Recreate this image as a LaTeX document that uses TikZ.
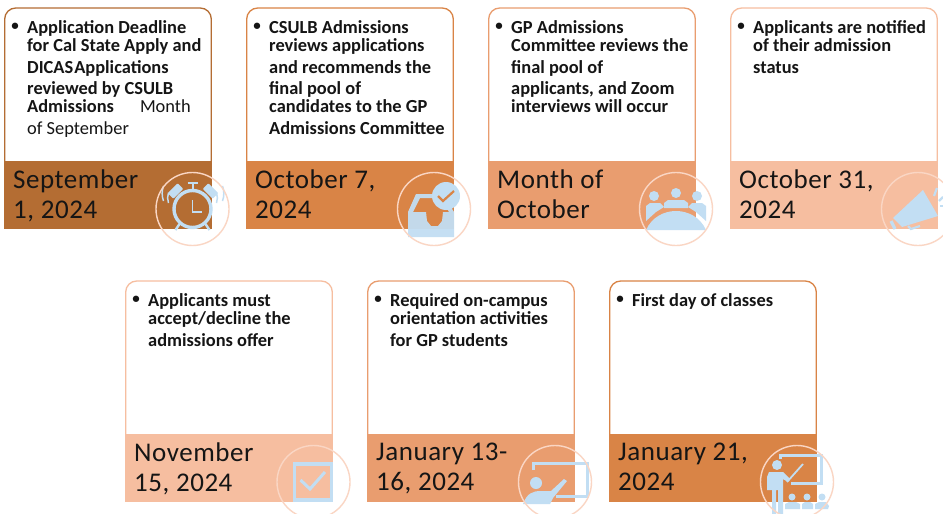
\documentclass[tikz,border=0pt]{standalone}
\usepackage{fontspec}
\setmainfont{Carlito}
\newfontfamily\datefont[LetterSpace=2]{Carlito}
\definecolor{cA}{HTML}{B46D33}
\definecolor{cB}{HTML}{D98446}
\definecolor{cC}{HTML}{E99D6F}
\definecolor{cD}{HTML}{F6BEA0}
\definecolor{ring}{HTML}{FAD6C4}
\definecolor{ice}{HTML}{C2DEF3}
\definecolor{ink}{HTML}{151515}
\tikzset{
  x=1pt,y=-1pt,
  body/.style={anchor=north west,inner sep=0pt,align=left,font=\fontsize{18.4}{18.2}\selectfont\bfseries,text=ink},
  bul/.style={anchor=center,inner sep=0pt,font=\fontsize{15}{18.5}\selectfont\bfseries,text=ink},
  datetext/.style={anchor=north west,inner sep=0pt,align=left,font=\datefont\fontsize{27}{29.5}\selectfont,text=ink},
  halo/.style={draw=ring,line width=1.4pt},
  iconline/.style={draw=ice,line width=3pt,fill=none},
}
% name, left, top, colour, date, text
\newcommand{\card}[6]{%
  \draw[draw=#4,line width=1.3pt,fill=white,rounded corners=11pt] (#2+0.7,#3+165) -- (#2+0.7,#3) -- (#2+207.3,#3) -- (#2+207.3,#3+165) -- cycle;
  \fill[#4] (#2,#3+153) rectangle (#2+208,#3+221);
  \node[bul] (#1b) at (#2+11,#3+19) {•};
  \node[body] (#1t) at (#2+23,#3+12) {#6};
  \node[datetext] (#1d) at (#2+9,#3+162) {#5};
}
\begin{document}
\begin{tikzpicture}
\useasboundingbox (0,0) rectangle (943,514);
\clip (0,0) rectangle (943,514);
\fill[white] (0,0) rectangle (943,514);

\card{a}{4}{8}{cA}{September\\1, 2024}{Application Deadline\\for Cal State Apply and\\[3.5pt]DICAS\kern1pt Applications\\[3.5pt]reviewed by CSULB\\Admissions\kern26pt{\mdseries Month}\\[3.5pt]{\mdseries of September}}
\card{b}{246}{8}{cB}{October 7,\\2024}{CSULB Admissions\\reviews applications\\[3.5pt]and recommends the\\[3.5pt]final pool of\\candidates to the GP\\[3.5pt]Admissions Committee}
\card{c}{488}{8}{cC}{Month of\\October}{GP Admissions\\Committee reviews the\\[3.5pt]final pool of\\[3.5pt]applicants, and Zoom\\interviews will occur}
\card{d}{730}{8}{cD}{October 31,\\2024}{Applicants are notified\\of their admission\\[3.5pt]status}
\card{e}{125}{281}{cD}{November\\15, 2024}{Applicants must\\accept/decline the\\[3.5pt]admissions offer}
\card{f}{367}{281}{cC}{January 13-\\16, 2024}{Required on-campus\\orientation activities\\[3.5pt]for GP students}
\card{g}{609}{281}{cB}{January 21,\\2024}{First day of classes}

% clock
\begin{scope}[shift={(192.5,209)}]
\draw[iconline,line width=3.4pt] (0,0) circle (18.5);
\draw[draw=ice,line width=1.6pt] (0,-9) -- (0,3) -- (9,3);
\fill[ice,rotate around={45:(-17,-18)},rounded corners=1pt] (-24,-22) rectangle (-10,-14);
\fill[ice,rotate around={-45:(18,-18)},rounded corners=1pt] (11,-22) rectangle (25,-14);
\draw[draw=ice,line width=2pt] (-5,-26) -- (5,-26) (0,-26) -- (0,-20);
\draw[draw=ice,line width=2.4pt] (-13,15) -- (-17,21) (13,15) -- (17,21);
\draw[draw=ice,line width=1.5pt] (-24,-6) arc[start angle=160,end angle=200,radius=15];
\draw[draw=ice,line width=1.5pt] (-29,-8) arc[start angle=160,end angle=200,radius=22];
\draw[draw=ice,line width=1.5pt] (24,-6) arc[start angle=20,end angle=-20,radius=15];
\draw[draw=ice,line width=1.5pt] (30,-8) arc[start angle=20,end angle=-20,radius=22];
\draw[halo] (0,0) circle (36.5);
\end{scope}

% inbox
\begin{scope}[shift={(434,209)}]
\fill[ice,opacity=.95] (-26,28) -- (-26,3) -- (-18,-15) -- (0,-15) -- (2,-11) -- (-14,-11) -- (-21,3) -- (-8,3) -- (-7,12) -- (-3,17) -- (4,17) -- (8,12) -- (9,3) -- (15,3) -- (9,-8) -- (13,-8) -- (20,3) -- (20,28) -- cycle;
\fill[ice] (12,-13) circle (14);
\draw[draw=cB,line width=2.2pt] (4,-13) -- (9,-8) -- (20,-18);
\draw[halo] (0,0) circle (36.5);
\end{scope}

% people
\begin{scope}[shift={(676,209)}]
\fill[ice] (-22,-13) circle (5) (0,-16) circle (5) (21,-13) circle (5);
\fill[ice] (-30,12) -- (-30,-3) -- (-26,-6) -- (-16,-6) -- (-12,-2) -- (-20,3) -- cycle;
\fill[ice] (-12,-1) -- (-12,-6) -- (-8,-9) -- (8,-9) -- (12,-6) -- (12,-1) -- cycle;
\fill[ice] (30,12) -- (30,-3) -- (26,-6) -- (16,-6) -- (12,-2) -- (20,3) -- cycle;
\fill[ice] (-30,21) .. controls (-24,8) and (-12,2) .. (0,2) .. controls (12,2) and (24,8) .. (30,21) -- cycle;
\draw[halo] (0,0) circle (36.5);
\end{scope}

% megaphone
\begin{scope}[shift={(918,209)}]
\fill[ice] (5,-19) -- (20,7) -- (-16,18) -- (-25,9) -- cycle;
\draw[draw=ice,line width=2.2pt] (-10,17) -- (-7,20) -- (2,17);
\draw[draw=ice,line width=3.2pt] (-27,12) -- (-23,20);
\draw[draw=ice,line width=2.2pt] (16,-13) -- (19,-21);
\draw[draw=ice,line width=2.2pt] (21,-8) -- (25,-12);
\draw[draw=ice,line width=2.2pt] (22,-3) -- (25,-3);
\draw[halo] (0,0) circle (36.5);
\end{scope}

% checkbox
\begin{scope}[shift={(313.5,482)}]
\draw[draw=ice,line width=3.6pt] (-19,-18) rectangle (18,18);
\draw[draw=ice,line width=3pt] (-13,-2) -- (-3.5,7) -- (11.5,-10);
\draw[halo] (0,0) circle (36.5);
\end{scope}

% presenter
\begin{scope}[shift={(555,482)}]
\draw[iconline] (-22,-12) -- (-22,-19) -- (32,-19) -- (32,14) -- (1,14);
\fill[ice] (-19,1) circle (6);
\fill[ice] (-32,22) .. controls (-28,11) and (-22,9) .. (-14,9) -- (-4,9) -- (9,-3) -- (12,-1) -- (-2,16) -- (-5,22) -- cycle;
\draw[halo] (0,0) circle (36.5);
\end{scope}

% teacher
\begin{scope}[shift={(797,482)}]
\draw[iconline] (-17,-23) -- (-17,-27) -- (24,-27) -- (24,1) -- (-6,1);
\fill[ice] (-20,-17) circle (5);
\fill[ice] (-30,-5) -- (-28,-10) -- (-14,-10) -- (-7,-3) -- (-9,0) -- (-14,-3) -- (-14,32) -- (-19,32) -- (-19,8) -- (-21,8) -- (-21,32) -- (-25,32) -- (-25,8) -- (-30,8) -- cycle;
\draw[draw=ice,line width=1.8pt] (-10,0) -- (6,-18);
\fill[ice] (-5,15) circle (3.5) (10,15) circle (3.5) (25,15) circle (3.5);
\fill[ice] (-12,27) -- (-12,22) -- (-8,20) -- (-1,20) -- (3,22) -- (3,27) -- cycle;
\fill[ice] (5,27) -- (5,22) -- (8,20) -- (13,20) -- (16,22) -- (16,27) -- cycle;
\fill[ice] (18,27) -- (18,22) -- (22,20) -- (29,20) -- (32,24) -- (31,27) -- cycle;
\draw[halo] (0,0) circle (36.5);
\end{scope}
\end{tikzpicture}
\end{document}
